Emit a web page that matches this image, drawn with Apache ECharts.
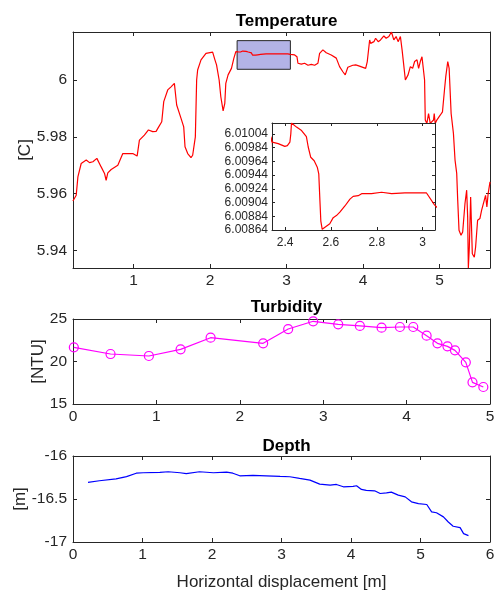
<!DOCTYPE html>
<html>
<head>
<meta charset="utf-8">
<script src="https://cdn.jsdelivr.net/npm/echarts@6/dist/echarts.min.js"></script>
<style>
  html, body { margin: 0; padding: 0; background: #fff; }
  #chart { width: 496px; height: 591px; }
</style>
</head>
<body>
<div id="chart"></div>
<script>
// Temperature along the transect: [horizontal displacement (m), temperature (C)]
const temperature = [
  [0.209, 5.9574], [0.252, 5.9594], [0.274, 5.9659], [0.317, 5.9706], [0.383, 5.9718],
  [0.426, 5.9709], [0.470, 5.9712], [0.522, 5.9724], [0.578, 5.9694], [0.622, 5.9671],
  [0.643, 5.9647], [0.665, 5.9673], [0.709, 5.9685], [0.796, 5.9700], [0.861, 5.9741],
  [0.883, 5.9747], [0.926, 5.9741], [0.991, 5.9741], [1.048, 5.9732], [1.078, 5.9788],
  [1.143, 5.9806], [1.196, 5.9824], [1.252, 5.9818], [1.296, 5.9819], [1.330, 5.9835],
  [1.370, 5.9853], [1.396, 5.9924], [1.448, 5.9965], [1.491, 5.9976], [1.535, 5.9988],
  [1.548, 5.9982], [1.565, 5.9912], [1.622, 5.9865], [1.657, 5.9835], [1.674, 5.9765],
  [1.709, 5.9741], [1.752, 5.9727], [1.774, 5.9735], [1.809, 5.9800], [1.826, 6.0000],
  [1.839, 6.0035], [1.883, 6.0071], [1.948, 6.0094], [2.035, 6.0098], [2.065, 6.0071],
  [2.086, 6.0053], [2.120, 6.0000], [2.142, 5.9941], [2.172, 5.9891], [2.194, 5.9918],
  [2.207, 5.9988], [2.237, 6.0018], [2.281, 6.0041], [2.312, 6.0076], [2.338, 6.0100],
  [2.344, 6.00992], [2.370, 6.00990], [2.399, 6.00986], [2.410, 6.00987], [2.421, 6.00992],
  [2.425, 6.01004], [2.428, 6.01020], [2.435, 6.01018], [2.450, 6.01014], [2.472, 6.01009],
  [2.493, 6.01000], [2.501, 6.00985], [2.512, 6.00970], [2.527, 6.00965], [2.541, 6.00955],
  [2.547, 6.00946], [2.552, 6.00907], [2.556, 6.00877], [2.562, 6.00865], [2.574, 6.00868],
  [2.595, 6.00873], [2.610, 6.00882], [2.624, 6.00885], [2.639, 6.00890], [2.661, 6.00899],
  [2.683, 6.00909], [2.697, 6.00913], [2.719, 6.00914], [2.734, 6.00917], [2.777, 6.00917],
  [2.821, 6.00919], [2.865, 6.00917], [2.923, 6.00918], [2.981, 6.00918], [3.017, 6.00918],
  [3.051, 6.00901], [3.107, 6.00882], [3.137, 6.0082], [3.150, 6.0059], [3.194, 6.0056],
  [3.237, 6.0059], [3.281, 6.0052], [3.325, 6.0055], [3.368, 6.0052], [3.411, 6.0059],
  [3.433, 6.0094], [3.476, 6.0106], [3.520, 6.0096], [3.585, 6.0088], [3.651, 6.0077],
  [3.694, 6.0047], [3.737, 6.0029], [3.768, 6.0018], [3.802, 6.0045], [3.867, 6.0052],
  [3.905, 6.0053], [3.954, 6.0049], [4.035, 6.0041], [4.056, 6.0065], [4.087, 6.0141],
  [4.100, 6.0129], [4.143, 6.0135], [4.165, 6.0147], [4.199, 6.0135], [4.229, 6.0141],
  [4.273, 6.0155], [4.303, 6.0147], [4.338, 6.0153], [4.372, 6.0169], [4.403, 6.0141],
  [4.433, 6.0153], [4.459, 6.0135], [4.489, 6.0153], [4.511, 6.0106], [4.554, 6.0000],
  [4.589, 6.0018], [4.619, 6.0047], [4.649, 6.0041], [4.675, 6.0065], [4.706, 6.0071],
  [4.727, 6.0041], [4.749, 6.0065], [4.771, 6.0082], [4.792, 6.0088], [4.805, 6.0000],
  [4.814, 5.9859], [4.835, 5.9847], [4.857, 5.9882], [4.879, 5.9847], [4.922, 5.9859],
  [4.931, 5.9882], [4.944, 5.9847], [4.965, 5.9859], [5.009, 5.9876], [5.039, 5.9888],
  [5.065, 5.9965], [5.082, 6.0012], [5.108, 6.0065], [5.126, 6.0041], [5.152, 5.9882],
  [5.182, 5.9812], [5.203, 5.9718], [5.225, 5.9671], [5.238, 5.9577], [5.255, 5.9471],
  [5.281, 5.9453], [5.303, 5.9465], [5.333, 5.9565], [5.355, 5.9612], [5.368, 5.9518],
  [5.377, 5.9338], [5.390, 5.9412], [5.407, 5.9588], [5.429, 5.9388], [5.455, 5.9376],
  [5.472, 5.9412], [5.498, 5.9506], [5.528, 5.9512], [5.550, 5.9541], [5.571, 5.9547],
  [5.602, 5.9594], [5.619, 5.9553], [5.636, 5.9600], [5.660, 5.9641]
];

// Turbidity samples: [horizontal displacement (m), turbidity (NTU)]
const turbidity = [
  [0.01, 21.67], [0.45, 20.88], [0.91, 20.65], [1.29, 21.43], [1.65, 22.80],
  [2.28, 22.14], [2.58, 23.82], [2.88, 24.73], [3.18, 24.37], [3.44, 24.18],
  [3.70, 23.98], [3.92, 24.06], [4.08, 24.06], [4.24, 23.04], [4.37, 22.14],
  [4.49, 21.78], [4.58, 21.31], [4.71, 19.90], [4.79, 17.55], [4.92, 17.00]
];

// Depth of the instrument: [horizontal displacement (m), depth (m)]
const depth = [
  [0.216, -16.307], [0.38, -16.288], [0.62, -16.265], [0.77, -16.24], [0.91, -16.20],
  [1.01, -16.195], [1.25, -16.19], [1.37, -16.183], [1.54, -16.195], [1.63, -16.206],
  [1.82, -16.183], [2.02, -16.195], [2.21, -16.187], [2.30, -16.20], [2.40, -16.23],
  [2.59, -16.226], [2.78, -16.23], [2.98, -16.237], [3.12, -16.241], [3.26, -16.26],
  [3.41, -16.28], [3.55, -16.327], [3.70, -16.339], [3.79, -16.331], [3.89, -16.358],
  [4.03, -16.354], [4.08, -16.346], [4.15, -16.389], [4.22, -16.40], [4.34, -16.405],
  [4.42, -16.436], [4.51, -16.428], [4.58, -16.42], [4.68, -16.455], [4.78, -16.475],
  [4.87, -16.533], [4.97, -16.553], [5.09, -16.564], [5.16, -16.65], [5.23, -16.66],
  [5.33, -16.708], [5.40, -16.767], [5.47, -16.817], [5.57, -16.833], [5.62, -16.903],
  [5.69, -16.926]
];

// Highlighted window on the temperature trace: [x0, y0, x1, y1]
const zoomBox = [2.355, 6.00377, 3.051, 6.01386];

// Axis ranges and tick positions
const tempRangeX = [0.21, 5.66];
const tempRangeY = [5.9338, 6.0169];
const tempTicksX = [1, 2, 3, 4, 5];
const tempTicksY = [5.94, 5.96, 5.98, 6];
const insetRangeX = [2.343, 3.054];
const insetRangeY = [6.00864, 6.0102];
const insetTicksX = [2.4, 2.6, 2.8, 3];
const insetTicksY = [6.00864, 6.00884, 6.00904, 6.00924, 6.00944, 6.00964, 6.00984, 6.01004];
const turbRangeX = [0, 5];
const turbRangeY = [15, 25];
const turbTicksX = [0, 1, 2, 3, 4, 5];
const turbTicksY = [15, 20, 25];
const depthRangeX = [0, 6];
const depthRangeY = [-17, -16];
const depthTicksX = [0, 1, 2, 3, 4, 5, 6];
const depthTicksY = [-17, -16.5, -16];

const FONT = '"Liberation Sans", Arial, Helvetica, sans-serif';
const AXIS_COLOR = '#262626';

// Builds a labelled axis plus an unlabelled mirror on the opposite side (boxed axes)
function boxedAxes(dim, gridIndex, range, ticks, o) {
  o = o || {};
  const sides = dim === 'x' ? ['bottom', 'top'] : ['left', 'right'];
  const base = {
    type: 'value', gridIndex: gridIndex, min: range[0], max: range[1],
    scale: true, splitLine: { show: false },
    axisLine: { show: true, onZero: false, lineStyle: { color: AXIS_COLOR, width: 1 } },
    axisTick: { show: true, inside: true, length: o.tickLen || 4, customValues: ticks,
                lineStyle: { color: AXIS_COLOR, width: 1 } },
    z: o.z || 0
  };
  const main = Object.assign({}, base, {
    position: sides[0],
    axisLabel: {
      show: true, customValues: ticks, margin: o.margin || 6,
      fontFamily: FONT, fontSize: o.fontSize || 15.5, color: '#262626',
      formatter: o.formatter || (v => String(v))
    }
  });
  if (o.name) {
    Object.assign(main, {
      name: o.name, nameLocation: 'middle', nameGap: o.nameGap,
      nameMoveOverlap: false,
      nameTextStyle: { fontFamily: FONT, fontSize: 17, color: '#262626' }
    });
  }
  const mirror = Object.assign({}, base, {
    position: sides[1], axisLabel: { show: false }
  });
  return [main, mirror];
}

const xAxes = [].concat(
  boxedAxes('x', 0, tempRangeX, tempTicksX, { margin: 5 }),
  boxedAxes('x', 1, insetRangeX, insetTicksX, { fontSize: 12, margin: 7, z: 6, tickLen: 3 }),
  boxedAxes('x', 2, turbRangeX, turbTicksX, { margin: 5 }),
  boxedAxes('x', 3, depthRangeX, depthTicksX, {
    margin: 5, name: 'Horizontal displacement [m]', nameGap: 32
  })
);
const yAxes = [].concat(
  boxedAxes('y', 0, tempRangeY, tempTicksY, { margin: 6, name: '[C]', nameGap: 39 }),
  boxedAxes('y', 1, insetRangeY, insetTicksY, {
    fontSize: 12, margin: 4, z: 6, tickLen: 3, formatter: v => v.toFixed(5)
  }),
  boxedAxes('y', 2, turbRangeY, turbTicksY, { margin: 6, name: '[NTU]', nameGap: 26 }),
  boxedAxes('y', 3, depthRangeY, depthTicksY, { margin: 6, name: '[m]', nameGap: 44 })
);

const titleStyle = { fontFamily: FONT, fontSize: 17, fontWeight: 'bold', color: '#000' };

const option = {
  animation: false,
  backgroundColor: '#fff',
  title: [
    { text: 'Temperature', left: 281.5, top: 8, textAlign: 'center', textStyle: titleStyle },
    { text: 'Turbidity', left: 281.5, top: 294, textAlign: 'center', textStyle: titleStyle },
    { text: 'Depth', left: 281.5, top: 433, textAlign: 'center', textStyle: titleStyle }
  ],
  grid: [
    { left: 73, top: 32, width: 417, height: 236, outerBoundsMode: 'none' },
    { left: 272, top: 123, width: 163, height: 107, show: true, outerBoundsMode: 'none',
      backgroundColor: '#fff', borderWidth: 0, z: 5 },
    { left: 73, top: 319, width: 417, height: 85, outerBoundsMode: 'none' },
    { left: 73, top: 456, width: 417, height: 86, outerBoundsMode: 'none' }
  ],
  xAxis: xAxes,
  yAxis: yAxes,
  series: [
    {
      type: 'custom', xAxisIndex: 0, yAxisIndex: 0, z: 1,
      data: [zoomBox],
      encode: { x: [0, 2], y: [1, 3] },
      renderItem: function (params, api) {
        const p0 = api.coord([api.value(0), api.value(3)]);
        const p1 = api.coord([api.value(2), api.value(1)]);
        return {
          type: 'rect',
          shape: { x: p0[0], y: p0[1], width: p1[0] - p0[0], height: p1[1] - p0[1] },
          style: { fill: '#b3b3e6', stroke: '#262626', lineWidth: 1 }
        };
      }
    },
    {
      type: 'line', xAxisIndex: 0, yAxisIndex: 0, z: 2,
      data: temperature, showSymbol: false, symbol: 'none',
      lineStyle: { color: '#ff0000', width: 1.2 }
    },
    {
      type: 'line', xAxisIndex: 2, yAxisIndex: 2, z: 7,
      data: temperature, showSymbol: false, symbol: 'none', clip: true,
      lineStyle: { color: '#ff0000', width: 1.2 }
    },
    {
      type: 'line', xAxisIndex: 4, yAxisIndex: 4,
      data: turbidity, symbol: 'circle', symbolSize: 9,
      itemStyle: { color: 'rgba(0,0,0,0)', borderColor: '#ff00ff', borderWidth: 1.2 },
      lineStyle: { color: '#ff00ff', width: 1.2 }
    },
    {
      type: 'line', xAxisIndex: 6, yAxisIndex: 6,
      data: depth, showSymbol: false, symbol: 'none',
      lineStyle: { color: '#0000ff', width: 1.2 }
    }
  ]
};

const chart = echarts.init(document.getElementById('chart'), null, { renderer: 'canvas' });
chart.setOption(option);
</script>
</body>
</html>
